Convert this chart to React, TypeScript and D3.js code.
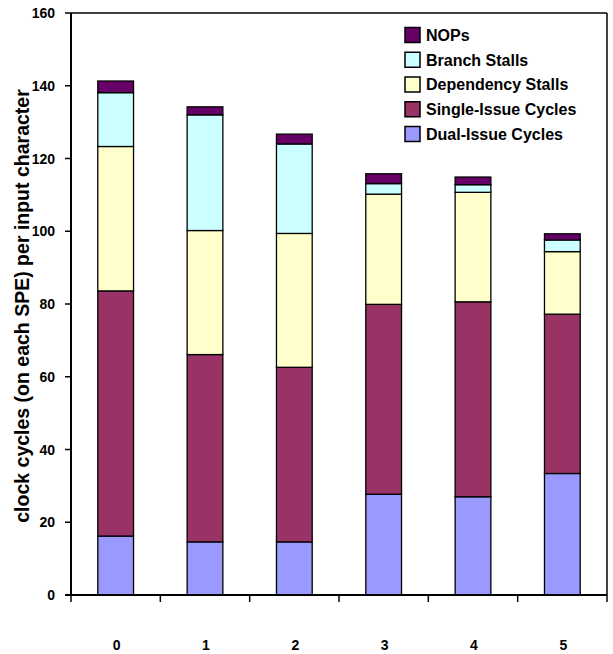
import React from "react";
import * as d3 from "d3";

const categories = ["0", "1", "2", "3", "4", "5"];
const seriesNames = ["Dual-Issue Cycles", "Single-Issue Cycles", "Dependency Stalls", "Branch Stalls", "NOPs"];
const seriesColors = ["#9999FF", "#993366", "#FFFFCC", "#CCFFFF", "#660066"];
const dualIssue = [16.2, 14.6, 14.6, 27.7, 27.0, 33.4];
const singleIssue = [67.4, 51.5, 48.0, 52.2, 53.6, 43.8];
const dependencyStalls = [39.7, 34.1, 36.8, 30.3, 30.1, 17.2];
const branchStalls = [14.8, 31.8, 24.6, 2.9, 2.1, 3.2];
const nops = [3.2, 2.2, 2.7, 2.7, 2.1, 1.7];
const yTicks = [0, 20, 40, 60, 80, 100, 120, 140, 160];
const yTitle = "clock cycles (on each SPE) per input character";

const W = 613, H = 654;
const left = 71, right = 607, top = 13, bottom = 595;

export default function App() {
  const seriesValues = [dualIssue, singleIssue, dependencyStalls, branchStalls, nops];
  const rows = categories.map((c, i) => {
    const r: any = { cat: c };
    seriesNames.forEach((s, k) => (r[s] = seriesValues[k][i]));
    return r;
  });
  const stack = d3.stack<any>().keys(seriesNames)(rows);
  const x = d3.scaleBand().domain(categories).range([left, right]).paddingInner(0.6).paddingOuter(0.3);
  const xb = d3.scaleLinear().domain([0, categories.length]).range([left, right]);
  const y = d3.scaleLinear().domain([0, 160]).range([bottom, top]);
  const font = "Arial, 'Liberation Sans', sans-serif";
  const legendOrder = [4, 3, 2, 1, 0];
  return (
    <svg width={W} height={H} style={{ position: "absolute", left: 0, top: 0 }} fontFamily={font}>
      <rect x={0} y={0} width={W} height={H} fill="#fff" />
      {stack.map((layer, k) => (
        <g key={k}>
          {layer.map((d, i) => (
            <rect
              key={i}
              x={x(categories[i])}
              y={y(d[1])}
              width={x.bandwidth()}
              height={y(d[0]) - y(d[1])}
              fill={seriesColors[k]}
              stroke="#000"
              strokeWidth={1.3}
            />
          ))}
        </g>
      ))}
      {/* frame */}
      <line x1={left} x2={right} y1={top} y2={top} stroke="#000" strokeWidth={1.5} />
      <line x1={right} x2={right} y1={top} y2={bottom} stroke="#000" strokeWidth={1.5} />
      {/* y axis */}
      <line x1={left} x2={left} y1={top} y2={bottom} stroke="#000" strokeWidth={2} />
      {yTicks.map((t) => (
        <g key={t}>
          <line x1={left - 6} x2={left} y1={y(t)} y2={y(t)} stroke="#000" strokeWidth={1.5} />
          <text x={55} y={y(t)} dy="0.36em" textAnchor="end" fontSize={14} fontWeight="bold">
            {t}
          </text>
        </g>
      ))}
      {/* x axis */}
      <line x1={left - 6} x2={right} y1={bottom} y2={bottom} stroke="#000" strokeWidth={2} />
      {d3.range(categories.length + 1).map((i) => (
        <line key={i} x1={xb(i)} x2={xb(i)} y1={bottom} y2={bottom + 7} stroke="#000" strokeWidth={1.5} />
      ))}
      {categories.map((c) => (
        <text key={c} x={x(c)! + x.bandwidth() / 2 + 1} y={650} textAnchor="middle" fontSize={14} fontWeight="bold">
          {c}
        </text>
      ))}
      <text
        transform={`translate(29,306) rotate(-90)`}
        textAnchor="middle"
        fontSize={19.5}
        fontWeight="bold"
      >
        {yTitle}
      </text>
      {/* legend */}
      {legendOrder.map((k, j) => (
        <g key={k} transform={`translate(405,${35 + j * 24.75})`}>
          <rect x={0} y={-7.5} width={15} height={15} fill={seriesColors[k]} stroke="#000" strokeWidth={1.5} />
          <text x={21} y={0} dy="0.36em" fontSize={16} fontWeight="bold">
            {seriesNames[k]}
          </text>
        </g>
      ))}
    </svg>
  );
}
